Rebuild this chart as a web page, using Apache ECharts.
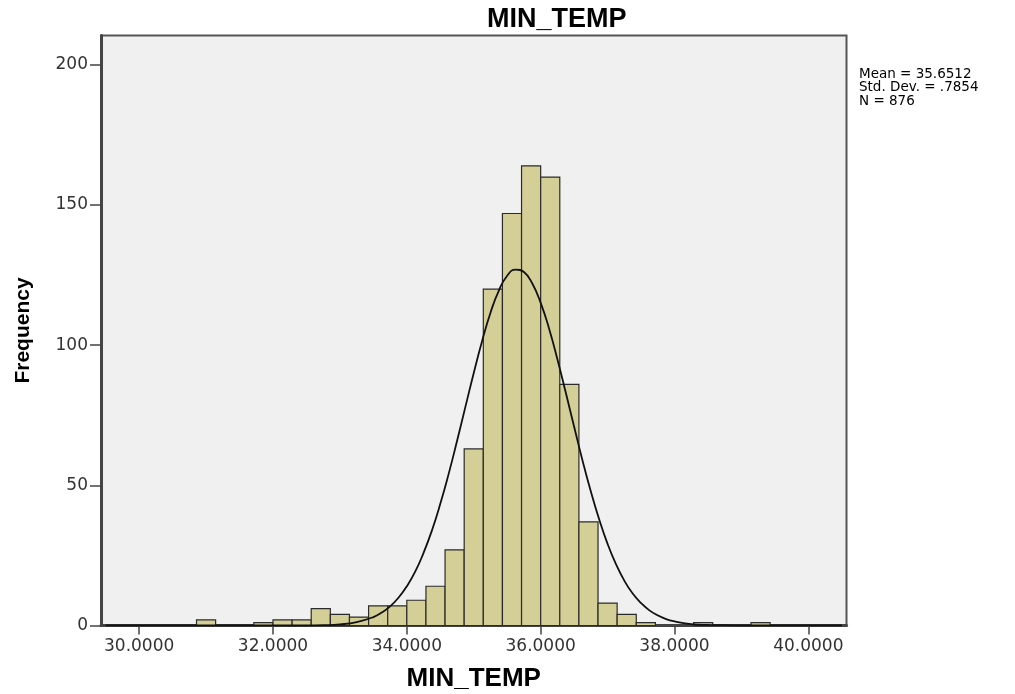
<!DOCTYPE html>
<html>
<head>
<meta charset="utf-8">
<title>MIN_TEMP</title>
<script src="https://cdn.jsdelivr.net/npm/echarts@6/dist/echarts.min.js"></script>
<style>
  html, body { margin: 0; padding: 0; background: #fff; }
  #main { width: 1015px; height: 694px; }
</style>
</head>
<body>
<div id="main"></div>
<script>
// histogram bins (lower edge) and their counts
var binLow = [30.8571, 31.7143, 32.0000, 32.2857, 32.5714, 32.8571, 33.1429, 33.4286,
              33.7143, 34.0000, 34.2857, 34.5714, 34.8571, 35.1429, 35.4286, 35.7143,
              36.0000, 36.2857, 36.5714, 36.8571, 37.1429, 37.4286, 38.2857, 39.1429];
var binCount = [2, 1, 2, 2, 6, 4, 3, 7,
                7, 9, 14, 27, 63, 120, 147, 164,
                160, 86, 37, 8, 4, 1, 1, 1];
var binWidth = 0.2857;

// normal curve
var curveX = [29.5, 30.0, 30.5, 31.0, 31.5, 32.0, 32.5, 32.75, 33.0, 33.25,
              33.5, 33.625, 33.75, 33.875, 34.0, 34.125, 34.25, 34.375, 34.5, 34.625,
              34.75, 34.875, 35.0, 35.125, 35.25, 35.375, 35.5, 35.625, 35.75, 35.875,
              36.0, 36.125, 36.25, 36.375, 36.5, 36.625, 36.75, 36.875, 37.0, 37.125,
              37.25, 37.375, 37.5, 37.625, 37.75, 37.875, 38.0, 38.25, 38.5, 38.75,
              39.0, 39.5, 40.0, 40.5];
var curveY = [0, 0, 0, 0, 0, 0, 0, 0.1, 0.4, 1.2,
              3.0, 4.6, 6.8, 9.9, 14.0, 19.2, 25.9, 33.9, 43.4, 54.1,
              65.8, 78.0, 90.1, 101.5, 111.6, 119.5, 124.8, 127.0, 126.1, 122.0,
              115.1, 106.0, 95.0, 83.1, 70.9, 58.9, 47.8, 37.8, 29.1, 21.9,
              16.0, 11.4, 8.0, 5.4, 3.6, 2.3, 1.5, 0.5, 0.2, 0.1,
              0, 0, 0, 0];

var xTicks = [30, 32, 34, 36, 38, 40];
var yTicks = [0, 50, 100, 150, 200];
var statLines = ['Mean = 35.6512', 'Std. Dev. = .7854', 'N = 876'];

var histData = [];
for (var i = 0; i < binLow.length; i++) {
    histData.push([binLow[i], binCount[i]]);
}
var lineData = [];
for (var j = 0; j < curveX.length; j++) {
    lineData.push([curveX[j], curveY[j]]);
}

var myChart = echarts.init(document.getElementById('main'));
var option = {
    backgroundColor: '#fff',
    animation: false,
    title: {
        text: 'MIN_TEMP',
        left: 482,
        top: 1,
        textStyle: {
            fontFamily: 'Liberation Sans',
            fontWeight: 'bold',
            fontSize: 27,
            color: '#000'
        }
    },
    grid: {
        left: 101,
        right: 168.5,
        top: 35.5,
        bottom: 68.5,
        outerBoundsMode: 'none',
        show: true,
        backgroundColor: '#f0f0f0',
        borderColor: '#555',
        borderWidth: 2
    },
    graphic: [{
        type: 'text',
        left: 859,
        top: 67,
        style: {
            text: statLines.join('\n'),
            font: '13.5px "DejaVu Sans"',
            lineHeight: 13.8,
            fill: '#000'
        }
    }],
    xAxis: {
        type: 'value',
        min: 29.43,
        max: 40.57,
        name: 'MIN_TEMP',
        nameLocation: 'middle',
        nameGap: 40,
        nameTextStyle: {
            fontFamily: 'Liberation Sans',
            fontWeight: 'bold',
            fontSize: 26,
            color: '#000'
        },
        splitLine: { show: false },
        axisLine: { lineStyle: { color: '#444', width: 3 } },
        axisTick: {
            length: 9,
            customValues: xTicks,
            lineStyle: { color: '#444', width: 1.5 }
        },
        axisLabel: {
            customValues: xTicks,
            margin: 13,
            fontFamily: 'DejaVu Sans',
            fontSize: 17,
            color: '#333',
            formatter: function (v) { return v.toFixed(4); }
        }
    },
    yAxis: {
        type: 'value',
        min: 0,
        max: 210.5,
        name: 'Frequency',
        nameLocation: 'middle',
        nameRotate: 90,
        nameGap: 67,
        nameTextStyle: {
            fontFamily: 'Liberation Sans',
            fontWeight: 'bold',
            fontSize: 21,
            color: '#000'
        },
        splitLine: { show: false },
        axisLine: { show: true, lineStyle: { color: '#444', width: 3 } },
        axisTick: {
            show: true,
            length: 11,
            customValues: yTicks,
            lineStyle: { color: '#444', width: 1.5 }
        },
        axisLabel: {
            customValues: yTicks,
            margin: 13,
            fontFamily: 'DejaVu Sans',
            fontSize: 17,
            color: '#333'
        }
    },
    series: [
        {
            name: 'Frequency',
            type: 'custom',
            data: histData,
            encode: { x: 0, y: 1 },
            renderItem: function (params, api) {
                var x0 = api.value(0);
                var c = api.value(1);
                var pTop = api.coord([x0, c]);
                var pBot = api.coord([x0 + binWidth, 0]);
                return {
                    type: 'rect',
                    shape: {
                        x: pTop[0],
                        y: pTop[1],
                        width: pBot[0] - pTop[0],
                        height: pBot[1] - pTop[1]
                    },
                    style: {
                        fill: '#d4cf97',
                        stroke: '#2b2b2b',
                        lineWidth: 1.2
                    }
                };
            }
        },
        {
            name: 'Normal',
            type: 'line',
            data: lineData,
            smooth: 0.5,
            symbol: 'none',
            lineStyle: { color: '#111', width: 1.8 },
            z: 3
        }
    ]
};
myChart.setOption(option);

window.addEventListener('resize', function () {
    myChart.resize();
});
</script>
</body>
</html>
